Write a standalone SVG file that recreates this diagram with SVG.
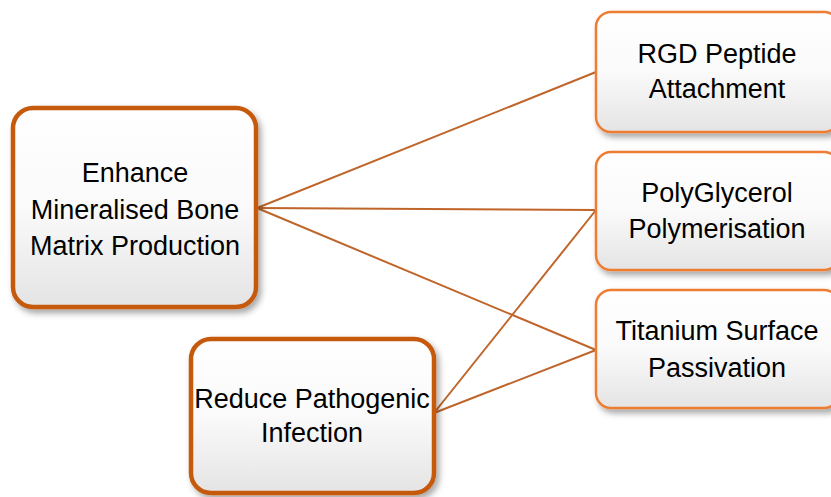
<svg xmlns="http://www.w3.org/2000/svg" width="831" height="497" viewBox="0 0 831 497">
<style>
.box{fill:url(#g)}
.goal{stroke:#C55A11;stroke-width:4.5}
.tech{stroke:#ED7D31;stroke-width:2.5}
.lbl{font-family:"Liberation Sans",Arial,sans-serif;font-size:27px;fill:#000;text-anchor:middle}
.con line{stroke:#C0652A;stroke-width:2;fill:none}
</style>
<defs>
<linearGradient id="g" x1="0" y1="0" x2="0" y2="1">
<stop offset="0" stop-color="#FFFFFF"/>
<stop offset="0.5" stop-color="#FAFAFA"/>
<stop offset="1" stop-color="#E4E4E4"/>
</linearGradient>
<filter id="sh" x="-10%" y="-10%" width="125%" height="125%">
<feDropShadow dx="3" dy="4" stdDeviation="3" flood-color="#000" flood-opacity="0.35"/>
</filter>
</defs>
<g id="connectors" class="con">
<line x1="257" y1="208" x2="596" y2="72"/>
<line x1="257" y1="208" x2="596" y2="210"/>
<line x1="257" y1="208" x2="596" y2="350"/>
<line x1="434" y1="413" x2="596" y2="210"/>
<line x1="434" y1="413" x2="596" y2="350"/>
</g>
<g id="enhance">
<rect class="box goal" x="13" y="108" width="243" height="199" rx="20" filter="url(#sh)"/>
<text class="lbl" x="135" y="182">Enhance</text>
<text class="lbl" x="135" y="218.5">Mineralised Bone</text>
<text class="lbl" x="135" y="255">Matrix Production</text>
</g>
<g id="reduce">
<rect class="box goal" x="191" y="339" width="243" height="154" rx="20" filter="url(#sh)"/>
<text class="lbl" x="312" y="408">Reduce Pathogenic</text>
<text class="lbl" x="312" y="442">Infection</text>
</g>
<g id="rgd">
<rect class="box tech" x="596" y="12" width="243" height="120" rx="15" filter="url(#sh)"/>
<text class="lbl" x="717" y="63">RGD Peptide</text>
<text class="lbl" x="717" y="98">Attachment</text>
</g>
<g id="polyglycerol">
<rect class="box tech" x="596" y="152" width="243" height="118" rx="15" filter="url(#sh)"/>
<text class="lbl" x="717" y="202">PolyGlycerol</text>
<text class="lbl" x="717" y="238">Polymerisation</text>
</g>
<g id="titanium">
<rect class="box tech" x="596" y="290" width="243" height="118" rx="15" filter="url(#sh)"/>
<text class="lbl" x="717" y="340">Titanium Surface</text>
<text class="lbl" x="717" y="377">Passivation</text>
</g>
</svg>
